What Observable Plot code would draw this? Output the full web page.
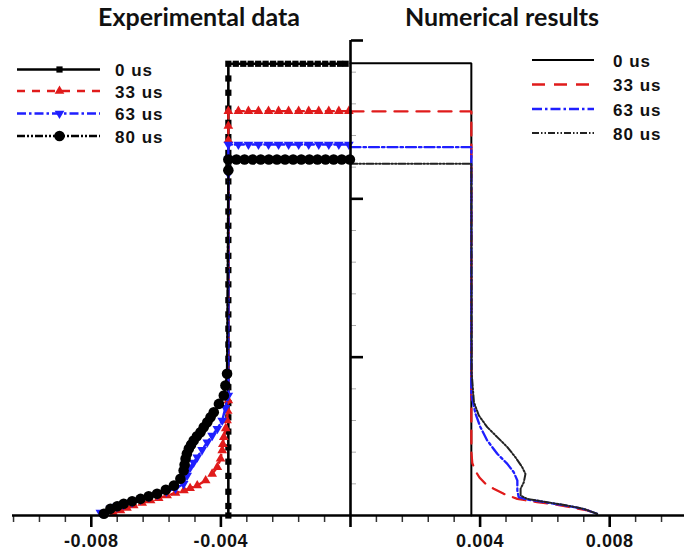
<!DOCTYPE html>
<html><head><meta charset="utf-8">
<script src="https://cdn.jsdelivr.net/npm/d3@7"></script>
<script src="https://cdn.jsdelivr.net/npm/@observablehq/plot@0.6"></script>
<style>
body{margin:0;background:#fff}
#wrap{position:relative;width:684px;height:554px;overflow:hidden;background:#fff}
#wrap svg{position:absolute;left:0;top:0}
</style></head><body><div id="wrap"></div>
<script>
// ---------- data ----------
const seriesLabels = ["0 us", "33 us", "63 us", "80 us"];
const titles = ["Experimental data", "Numerical results"];
const xMajorTicks = [-0.008, -0.004, 0.004, 0.008];
const xMinorTicks = [-0.0104, -0.0096, -0.0088, -0.0072, -0.0064, -0.0056, -0.0048, -0.0032, -0.0024, -0.0016, -0.0008,
  0.0008, 0.0016, 0.0024, 0.0032, 0.0048, 0.0056, 0.0064, 0.0072, 0.0088, 0.0096];
const yMajorTicks = [1, 2, 3];
const yMinorTicks = [0.2, 0.4, 0.6, 0.8, 1.2, 1.4, 1.6, 1.8, 2.2, 2.4, 2.6, 2.8];

// Experimental data (left half)
const exp0 = [
  [-0.00015,2.853],[-0.00032,2.853],[-0.00055,2.853],[-0.00078,2.853],[-0.00101,2.853],[-0.00124,2.853],[-0.00147,2.853],
  [-0.0017,2.853],[-0.00193,2.853],[-0.00216,2.853],[-0.00239,2.853],[-0.00262,2.853],[-0.00285,2.853],[-0.00308,2.853],
  [-0.00331,2.853],[-0.00354,2.853],[-0.00377,2.853],
  [-0.00377,2.76],[-0.00377,2.67],[-0.00377,2.57],[-0.00377,2.48],[-0.00377,2.39],[-0.00377,2.29],[-0.00377,2.2],
  [-0.00377,2.11],[-0.00377,2.01],[-0.00377,1.92],[-0.00377,1.83],[-0.00377,1.74],[-0.00377,1.64],[-0.00377,1.55],
  [-0.00377,1.46],[-0.00377,1.36],[-0.00377,1.27],[-0.00377,1.18],[-0.00377,1.08],[-0.00377,0.99],[-0.00377,0.9],
  [-0.00377,0.81],[-0.00377,0.71],[-0.00377,0.62],[-0.00377,0.53],[-0.00377,0.43],[-0.00377,0.34],[-0.00377,0.25],
  [-0.00377,0.15],[-0.00377,0.06],[-0.00377,0]
];
const exp33 = [
  [-0.00005,2.554],[-0.00036,2.554],[-0.00067,2.554],[-0.00098,2.554],[-0.00129,2.554],[-0.0016,2.554],[-0.00191,2.554],
  [-0.00222,2.554],[-0.00253,2.554],[-0.00284,2.554],[-0.00315,2.554],[-0.00346,2.554],[-0.00377,2.554],
  [-0.00377,2.46],[-0.00377,2.37],
  [-0.00377,0.726],[-0.00379,0.66],[-0.00381,0.6],[-0.00385,0.55],[-0.00391,0.495],[-0.00394,0.45],[-0.00396,0.411],
  [-0.00401,0.358],[-0.00411,0.305],[-0.00427,0.263],[-0.00447,0.221],[-0.00473,0.189],[-0.00495,0.172],[-0.00514,0.158],
  [-0.0054,0.142],[-0.00566,0.126],[-0.00592,0.11],[-0.00617,0.095],[-0.00643,0.079],[-0.00669,0.063],[-0.0069,0.048],
  [-0.0071,0.032],[-0.00731,0.011]
];
const exp63 = [
  [-0.00005,2.343],[-0.00036,2.343],[-0.00067,2.343],[-0.00098,2.343],[-0.00129,2.343],[-0.0016,2.343],[-0.00191,2.343],
  [-0.00222,2.343],[-0.00253,2.343],[-0.00284,2.343],[-0.00315,2.343],[-0.00346,2.343],[-0.00377,2.343],
  [-0.00377,2.25],[-0.00377,2.16],
  [-0.00377,0.758],[-0.00386,0.68],[-0.00396,0.6],[-0.00411,0.548],[-0.00427,0.505],[-0.00442,0.463],[-0.00458,0.415],
  [-0.00473,0.368],[-0.00484,0.335],[-0.00494,0.305],[-0.00504,0.253],[-0.00515,0.2],[-0.0054,0.171],[-0.00568,0.152],
  [-0.00596,0.133],[-0.00622,0.117],[-0.00648,0.101],[-0.00674,0.085],[-0.00701,0.069],[-0.00721,0.056],[-0.00741,0.044],
  [-0.00772,0.019]
];
const exp80 = [
  [-0.00002,2.248],[-0.00027,2.248],[-0.00052,2.248],[-0.00077,2.248],[-0.00102,2.248],[-0.00127,2.248],[-0.00152,2.248],
  [-0.00177,2.248],[-0.00202,2.248],[-0.00227,2.248],[-0.00252,2.248],[-0.00277,2.248],[-0.00302,2.248],[-0.00327,2.248],
  [-0.00352,2.248],[-0.00377,2.248],
  [-0.00377,2.18],
  [-0.00381,0.895],[-0.00386,0.821],[-0.00391,0.758],[-0.00406,0.705],[-0.00422,0.652],[-0.00432,0.62],[-0.00442,0.589],
  [-0.00453,0.557],[-0.00463,0.526],[-0.00474,0.5],[-0.00484,0.474],[-0.00492,0.447],[-0.00499,0.421],[-0.00505,0.39],
  [-0.00509,0.358],[-0.00512,0.32],[-0.00515,0.284],[-0.00525,0.232],[-0.00545,0.189],[-0.0057,0.162],[-0.00597,0.137],
  [-0.00623,0.121],[-0.00648,0.105],[-0.00674,0.09],[-0.007,0.074],[-0.0072,0.058],[-0.00741,0.042],[-0.00761,0.011]
];

// Numerical results (right half)
const num0 = [[0,2.857],[0.00373,2.857],[0.00373,0]];
const num33 = [
  [0,2.552],[0.00373,2.552],[0.00373,0.4],[0.00376,0.33],[0.00386,0.28],[0.00398,0.24],[0.00417,0.2],[0.00442,0.169],
  [0.00473,0.137],[0.00515,0.105],[0.00576,0.084],[0.00628,0.071],[0.00679,0.052],[0.00731,0.032],[0.00761,0.011]
];
const num63 = [
  [0,2.326],[0.00373,2.326],[0.00373,0.76],[0.00386,0.642],[0.00401,0.558],[0.00422,0.474],[0.00453,0.39],[0.00484,0.326],
  [0.00504,0.273],[0.00515,0.221],[0.00515,0.158],[0.00519,0.116],[0.00545,0.101],[0.00607,0.082],[0.00669,0.061],
  [0.0072,0.041],[0.00761,0.011]
];
const num80 = [
  [0,2.221],[0.00373,2.221],[0.00374,0.9],[0.00381,0.716],[0.00396,0.632],[0.00422,0.558],[0.00453,0.495],[0.00484,0.432],
  [0.00509,0.368],[0.0053,0.305],[0.0054,0.263],[0.00535,0.21],[0.00525,0.169],[0.00525,0.126],[0.00545,0.105],
  [0.00607,0.084],[0.00669,0.063],[0.0072,0.042],[0.00761,0.011]
];

// ---------- styles ----------
const RED = "#e01b1b", BLUE = "#1f1fff";
const expStyle = [
  {stroke: "#000", dash: null, symbol: "square", r: 3.5, rotate: 0, width: 2.6},
  {stroke: RED, dash: "8,7", symbol: "triangle", r: 3.6, rotate: 0, width: 2.4},
  {stroke: BLUE, dash: "9,3,2.5,3", symbol: "triangle", r: 3.6, rotate: 180, width: 2.4},
  {stroke: "#000", dash: "8,2,2,2,2,2", symbol: "circle", r: 5.3, rotate: 0, width: 2.4}
];
const numStyle = [
  {stroke: "#000", dash: null, width: 2},
  {stroke: RED, dash: "13,9", width: 2.3},
  {stroke: BLUE, dash: "10,3,2.5,3", width: 2.3},
  {stroke: "#222", dash: "7,2,1.5,2,1.5,2", width: 2}
];

const expSeries = [exp0, exp33, exp63, exp80];
const numSeries = [num0, num33, num63, num80];
const toRows = arr => arr.map(([x, y]) => ({x, y}));

const marks = [];
numSeries.forEach((s, i) => {
  const st = numStyle[i];
  marks.push(Plot.line(toRows(s), {x: "x", y: "y", stroke: st.stroke, strokeWidth: st.width,
    strokeDasharray: st.dash || undefined, strokeLinejoin: "miter"}));
});
expSeries.forEach((s, i) => {
  const st = expStyle[i];
  const rows = toRows(s);
  marks.push(Plot.line(rows, {x: "x", y: "y", stroke: st.stroke, strokeWidth: st.width,
    strokeDasharray: st.dash || undefined}));
  marks.push(Plot.dot(rows, {x: "x", y: "y", symbol: st.symbol, r: st.r, rotate: st.rotate,
    fill: st.stroke, stroke: "none"}));
});

// axes
marks.push(Plot.axisX({ticks: xMinorTicks, tickSize: 7, stroke: "#333", strokeWidth: 1.5,
  tickFormat: () => "", label: null}));
marks.push(Plot.axisX({ticks: xMajorTicks, tickSize: 12, tickPadding: 7, strokeWidth: 2.6,
  tickFormat: d => d.toFixed(3), fontSize: 18, fontWeight: "bold", fill: "#111", label: null}));
marks.push(Plot.axisY({ticks: yMinorTicks, anchor: "right", dx: -334, tickSize: 5, stroke: "#aaa",
  strokeWidth: 1, tickFormat: () => "", label: null}));
marks.push(Plot.axisY({ticks: yMajorTicks, anchor: "right", dx: -334, tickSize: 12, strokeWidth: 2.6,
  tickFormat: () => "", label: null}));
marks.push(Plot.ruleY([0], {stroke: "#000", strokeWidth: 2.6}));
marks.push(Plot.ruleX([0], {stroke: "#000", strokeWidth: 2.6, insetBottom: -12}));

const chart = Plot.plot({
  width: 684, height: 554,
  marginLeft: 12, marginRight: 0, marginTop: 40, marginBottom: 39,
  x: {domain: [-0.010432, 0.010309], label: null},
  y: {domain: [0, 3], label: null},
  style: {fontFamily: "'Liberation Sans', Arial, sans-serif", background: "transparent", overflow: "visible",
    letterSpacing: "0.6px"},
  marks
});
const wrap = document.getElementById("wrap");
wrap.appendChild(chart);

// ---------- overlay: titles & legends ----------
const ov = d3.create("svg").attr("width", 684).attr("height", 554)
  .style("font-family", "'Liberation Sans', Arial, sans-serif");
[[199, 26], [502, 26]].forEach(([x, y], i) => {
  ov.append("text").attr("x", x).attr("y", y).attr("text-anchor", "middle")
    .style("font-family", "Lato, 'Open Sans', sans-serif").style("font-weight", "bold")
    .style("font-size", "25px").attr("fill", "#111").text(titles[i]);
});
const symMap = {square: d3.symbolSquare, triangle: d3.symbolTriangle, circle: d3.symbolCircle};
const leftY = [69.5, 91, 113.5, 136];
seriesLabels.forEach((lab, i) => {
  const st = expStyle[i], y = leftY[i];
  ov.append("line").attr("x1", 17).attr("x2", 100).attr("y1", y).attr("y2", y)
    .attr("stroke", st.stroke).attr("stroke-width", st.width).attr("stroke-dasharray", st.dash);
  ov.append("path").attr("d", d3.symbol(symMap[st.symbol], Math.PI * st.r * st.r)())
    .attr("transform", `translate(59.5,${y}) rotate(${st.rotate})`).attr("fill", st.stroke);
  ov.append("text").attr("x", 115).attr("y", y + 6.5).style("font-weight", "bold").style("font-size", "17px")
    .style("letter-spacing", "1px").attr("fill", "#111").text(lab);
});
const rightY = [60, 84.5, 109, 133];
seriesLabels.forEach((lab, i) => {
  const st = numStyle[i], y = rightY[i];
  ov.append("line").attr("x1", 532).attr("x2", 594).attr("y1", y).attr("y2", y)
    .attr("stroke", st.stroke).attr("stroke-width", st.width).attr("stroke-dasharray", st.dash);
  ov.append("text").attr("x", 613).attr("y", y + 6.5).style("font-weight", "bold").style("font-size", "17px")
    .style("letter-spacing", "1px").attr("fill", "#111").text(lab);
});
wrap.appendChild(ov.node());
</script></body></html>
